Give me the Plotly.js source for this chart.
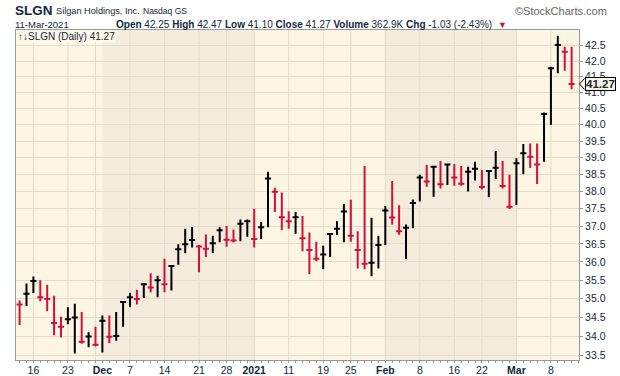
<!DOCTYPE html>
<html><head><meta charset="utf-8">
<script src="https://cdn.plot.ly/plotly-3.0.1.min.js"></script>
<style>html,body{margin:0;padding:0;background:#fff;}#chart{width:620px;height:376px;}</style>
</head><body><div id="chart"></div>
<script>
// ---- data ----
const dates = [
"2020-11-12","2020-11-13","2020-11-16","2020-11-17","2020-11-18","2020-11-19","2020-11-20","2020-11-23","2020-11-24","2020-11-25","2020-11-27","2020-11-30",
"2020-12-01","2020-12-02","2020-12-03","2020-12-04","2020-12-07","2020-12-08","2020-12-09","2020-12-10","2020-12-11","2020-12-14","2020-12-15","2020-12-16","2020-12-17","2020-12-18","2020-12-21","2020-12-22","2020-12-23","2020-12-24","2020-12-28","2020-12-29","2020-12-30","2020-12-31",
"2021-01-04","2021-01-05","2021-01-06","2021-01-07","2021-01-08","2021-01-11","2021-01-12","2021-01-13","2021-01-14","2021-01-15","2021-01-19","2021-01-20","2021-01-21","2021-01-22","2021-01-25","2021-01-26","2021-01-27","2021-01-28","2021-01-29",
"2021-02-01","2021-02-02","2021-02-03","2021-02-04","2021-02-05","2021-02-08","2021-02-09","2021-02-10","2021-02-11","2021-02-12","2021-02-16","2021-02-17","2021-02-18","2021-02-19","2021-02-22","2021-02-23","2021-02-24","2021-02-25","2021-02-26",
"2021-03-01","2021-03-02","2021-03-03","2021-03-04","2021-03-05","2021-03-08","2021-03-09","2021-03-10","2021-03-11"];
const high = [34.95,35.41,35.60,35.50,35.37,35.08,34.52,34.77,34.86,34.64,34.11,34.25,
34.55,34.55,34.64,34.93,35.16,35.24,35.42,35.69,35.62,36.09,35.91,36.49,36.93,36.98,36.47,36.77,36.73,36.97,37.01,36.91,37.19,37.19,
37.50,37.12,38.58,38.11,37.97,37.43,37.41,37.29,36.82,36.56,36.45,36.80,37.14,37.64,37.76,36.86,38.75,37.24,36.73,
37.58,38.31,37.60,37.05,37.77,38.49,38.78,38.73,38.90,38.80,38.81,38.75,38.73,38.88,38.63,38.62,39.20,38.90,38.49,
38.98,39.41,39.43,39.43,40.38,41.82,42.83,42.47,42.47];
const low = [34.30,34.80,35.15,34.93,34.66,34.03,33.97,34.32,33.56,33.81,33.72,33.74,
33.58,33.82,33.89,34.25,34.77,34.84,35.02,35.17,35.04,35.17,35.22,35.92,36.24,36.40,35.72,36.14,36.25,36.55,36.42,36.54,36.58,36.70,
36.40,36.64,36.97,37.41,36.89,36.93,36.79,36.30,35.66,36.02,35.80,36.14,36.75,36.55,36.56,35.82,35.80,35.61,35.82,
36.47,37.05,36.76,36.08,36.94,37.71,38.14,37.85,38.09,38.19,38.17,38.17,38.00,38.32,38.06,37.83,38.37,38.09,37.49,
37.61,38.51,38.69,38.22,38.88,40.00,41.61,41.69,41.10];
const close = [34.84,35.13,35.48,35.04,34.99,34.35,34.25,34.45,34.50,33.86,34.00,33.78,
34.41,33.99,34.01,34.91,35.04,34.99,35.39,35.30,35.50,35.39,35.89,36.35,36.49,36.61,36.43,36.37,36.52,36.89,36.62,36.60,37.07,37.14,
36.64,36.97,38.38,37.99,37.26,37.14,37.26,36.66,36.33,36.09,36.21,36.78,36.93,37.42,36.73,36.33,35.95,35.98,36.47,
37.45,37.25,36.86,36.96,37.67,38.41,38.29,38.73,38.21,38.80,38.41,38.23,38.58,38.67,38.13,38.60,38.70,38.16,37.56,
38.83,39.13,39.03,38.80,40.33,41.77,42.52,42.30,41.27];
const prevClose0 = 35.10;
const tickIdx  = [2,7,12,16,21,26,30,34,39,44,48,53,58,63,67,72,77];
const tickText = ["16","23","<b>Dec</b>","7","14","21","28","<b>2021</b>","11","19","25","<b>Feb</b>","8","16","22","<b>Mar</b>","8"];
const yTicks = [33.5,34.0,34.5,35.0,35.5,36.0,36.5,37.0,37.5,38.0,38.5,39.0,39.5,40.0,40.5,41.0,41.5,42.0,42.5];
const lastClose = 41.27;

// ---- build ----
const TXT = "#13283a", RED = "#d50f3a", BG1 = "#fdf6e4", BG2 = "#f4ecdc", GRID = "#e4dccb", FRAME = "#8e9c9c";
const SANS = "'Liberation Sans',Arial,sans-serif";
const idx = dates.map((d,i)=>i);
const up = {x:[],o:[],h:[],l:[],c:[]}, dn = {x:[],o:[],h:[],l:[],c:[]};
idx.forEach(i=>{
  const pc = i===0 ? prevClose0 : close[i-1];
  const t = close[i] >= pc ? up : dn;
  t.x.push(i); t.o.push(close[i]); t.h.push(high[i]); t.l.push(low[i]); t.c.push(close[i]);
});
function ohlc(s, col){
  return {type:'ohlc', x:s.x, open:s.o, high:s.h, low:s.l, close:s.c, tickwidth:0.44,
    increasing:{line:{color:col,width:2}}, decreasing:{line:{color:col,width:2}},
    hoverinfo:'skip', showlegend:false};
}
const weekStart = [], monthStart = [];
const dow = dates.map(d=>new Date(d+"T00:00:00Z").getUTCDay());
const mon = dates.map(d=>d.slice(0,7));
idx.forEach(i=>{ if(i>0 && dow[i]<dow[i-1]) weekStart.push(i); if(i>0 && mon[i]!==mon[i-1]) monthStart.push(i); });

const L=16, R=579, T=30, B=360;
const xr=[-0.52, 81.07];
const yr=[Math.log10(33.39), Math.log10(43.016)];
const PX = x=>(x-L)/(R-L), PY = y=>(B-y)/(B-T);
const shapes = [];
for(let k=0;k<monthStart.length;k+=2){
  const x0 = monthStart[k], x1 = k+1<monthStart.length ? monthStart[k+1] : xr[1];
  shapes.push({type:'rect', xref:'x', yref:'paper', x0:x0, x1:x1, y0:0, y1:1, fillcolor:BG2, line:{width:0}, layer:'below'});
}
weekStart.forEach(w=>shapes.push({type:'line', xref:'x', yref:'paper', x0:w, x1:w, y0:0, y1:1, line:{color:GRID,width:1}, layer:'below'}));
const yTag = (Math.log10(lastClose)-yr[0])/(yr[1]-yr[0]);
const hpx = 5.5/(B-T);
shapes.push({type:'path', xref:'paper', yref:'paper', layer:'above',
  path:`M ${PX(584.5)},${yTag+hpx} L ${PX(579.5)},${yTag} L ${PX(584.5)},${yTag-hpx}`,
  line:{color:'#000',width:1}, fillcolor:BG1});

function A(x,y,text,font,xa,extra){
  return Object.assign({xref:'paper',yref:'paper',x:PX(x),y:PY(y),text:text,showarrow:false,
    xanchor:xa||'left',yanchor:'middle',font:font},extra||{});
}
const annotations = [
  A(13,10,"<b>SLGN</b>",{family:SANS,size:13.5,color:TXT}),
  A(54,11,"Silgan Holdings, Inc.",{family:SANS,size:9.2,color:TXT}),
  A(141,11.5,"Nasdaq GS",{family:SANS,size:8.5,color:TXT}),
  A(609,11,"©StockCharts.com",{family:SANS,size:11,color:"#666"}, 'right'),
  A(13,24,"11-Mar-2021",{family:SANS,size:9.5,color:TXT}),
  A(494,24,"<b>Open</b> 42.25 <b>High</b> 42.47 <b>Low</b> 41.10 <b>Close</b> 41.27 <b>Volume</b> 362.9K <b>Chg</b> -1.03 (-2.43%)",{family:SANS,size:10,color:TXT},'right'),
  A(496,24.5,"▼",{family:SANS,size:9,color:RED}),
  A(17,36,"↑↓SLGN (Daily) 41.27",{family:SANS,size:10,color:TXT},'left',{bgcolor:"#fdf9ea",borderpad:0}),
  {xref:'paper',yref:'paper',x:PX(584.5),y:yTag,text:"<b>41.27</b>",showarrow:false,xanchor:'left',yanchor:'middle',
   font:{family:SANS,size:11.5,color:TXT},bgcolor:BG1,bordercolor:'#000',borderwidth:1,borderpad:0}
];

const layout = {
  width:620, height:376, margin:{l:L,r:620-R,t:T,b:376-B},
  paper_bgcolor:'#ffffff', plot_bgcolor:BG1, showlegend:false,
  xaxis:{range:xr, tickmode:'array', tickvals:tickIdx, ticktext:tickText, showgrid:false, zeroline:false,
    ticks:'', tickfont:{family:SANS,size:10.5,color:TXT}, showline:true, mirror:true, linecolor:FRAME, linewidth:1,
    rangeslider:{visible:false}, fixedrange:true,
    minor:{tickmode:'linear', tick0:0, dtick:1, ticks:'outside', ticklen:2, tickcolor:FRAME, showgrid:false}},
  yaxis:{type:'log', range:yr, side:'right', tickmode:'array', tickvals:yTicks, ticktext:yTicks.map(v=>v.toFixed(1)),
    showgrid:true, gridcolor:GRID, gridwidth:1, zeroline:false, ticks:'outside', ticklen:3, tickcolor:FRAME,
    tickfont:{family:SANS,size:10.5,color:TXT}, showline:true, mirror:true, linecolor:FRAME, linewidth:1, fixedrange:true},
  shapes:shapes, annotations:annotations
};
Plotly.newPlot('chart',[ohlc(up,'#000000'),ohlc(dn,RED)],layout,{staticPlot:true,displayModeBar:false});
</script></body></html>
